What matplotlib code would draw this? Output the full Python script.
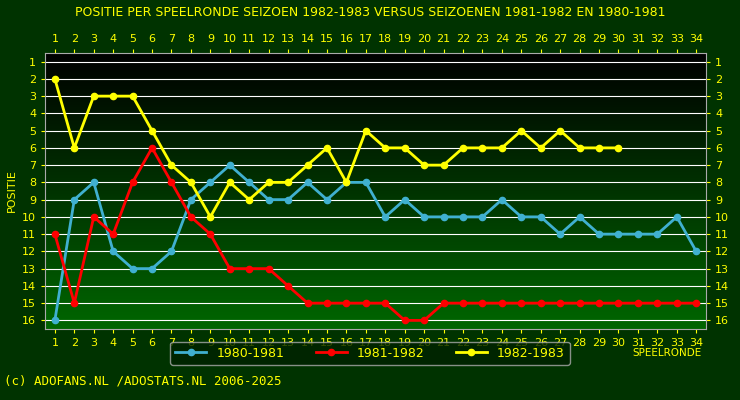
import matplotlib
matplotlib.use("Agg")
import matplotlib.pyplot as plt
import numpy as np
from matplotlib.colors import LinearSegmentedColormap

rounds = list(range(1, 35))
s1980 = [16,9,8,12,13,13,12,9,8,7,8,9,9,8,9,8,8,10,9,10,10,10,10,9,10,10,11,10,11,11,11,11,10,12]
s1981 = [11,15,10,11,8,6,8,10,11,13,13,13,14,15,15,15,15,15,16,16,15,15,15,15,15,15,15,15,15,15,15,15,15,15]
s1982 = [2,6,3,3,3,5,7,8,10,8,9,8,8,7,6,8,5,6,6,7,7,6,6,6,5,6,5,6,6,6]

fig = plt.figure(figsize=(7.4, 4.0), dpi=100)
fig.patch.set_facecolor("#003300")
ax = fig.add_axes([0.061, 0.1775, 0.893, 0.69])
grad = np.linspace(0, 1, 256).reshape(-1, 1)
cmap = LinearSegmentedColormap.from_list("g", ["#000000", "#006600"])
ax.imshow(grad, aspect="auto", cmap=cmap, extent=[0.5, 34.5, 16.5, 0.5], zorder=0)
ax.set_xlim(0.5, 34.5)
ax.set_ylim(16.5, 0.5)
for y in range(1, 17):
    ax.axhline(y, color="white", lw=0.8, zorder=1)
yel = "#ffff00"
ax.plot(rounds, s1980, color="#40b0d0", lw=2, marker="o", ms=4.5, zorder=3, label="1980-1981")
ax.plot(rounds, s1981, color="#ff0000", lw=2, marker="o", ms=4.5, zorder=3, label="1981-1982")
ax.plot(rounds[:len(s1982)], s1982, color="#ffff00", lw=2, marker="o", ms=4.5, zorder=4, label="1982-1983")
ax.set_xticks(rounds)
ax.set_yticks(range(1, 17))
ax.tick_params(colors=yel, labelsize=8, labeltop=True, labelright=True, top=True, right=True, length=3)
for sp in ax.spines.values():
    sp.set_color("#aaaaaa")
ax.set_ylabel("POSITIE", color=yel, fontsize=8)
fig.text(0.5, 0.97, "POSITIE PER SPEELRONDE SEIZOEN 1982-1983 VERSUS SEIZOENEN 1981-1982 EN 1980-1981",
         color=yel, ha="center", va="center", fontsize=9)
fig.text(0.855, 0.117, "SPEELRONDE", color=yel, fontsize=7.5, va="center")
fig.text(0.005, 0.04, "(c) ADOFANS.NL /ADOSTATS.NL 2006-2025", color=yel, fontsize=9, family="DejaVu Sans Mono")
leg = fig.legend(loc="center", bbox_to_anchor=(0.5, 0.117), ncol=3, frameon=True, fontsize=9,
                 facecolor="#002200", edgecolor="#aaaaaa", handlelength=2.5, columnspacing=2.5)
for t in leg.get_texts():
    t.set_color(yel)
fig.savefig("out.png", dpi=100, facecolor=fig.get_facecolor())
